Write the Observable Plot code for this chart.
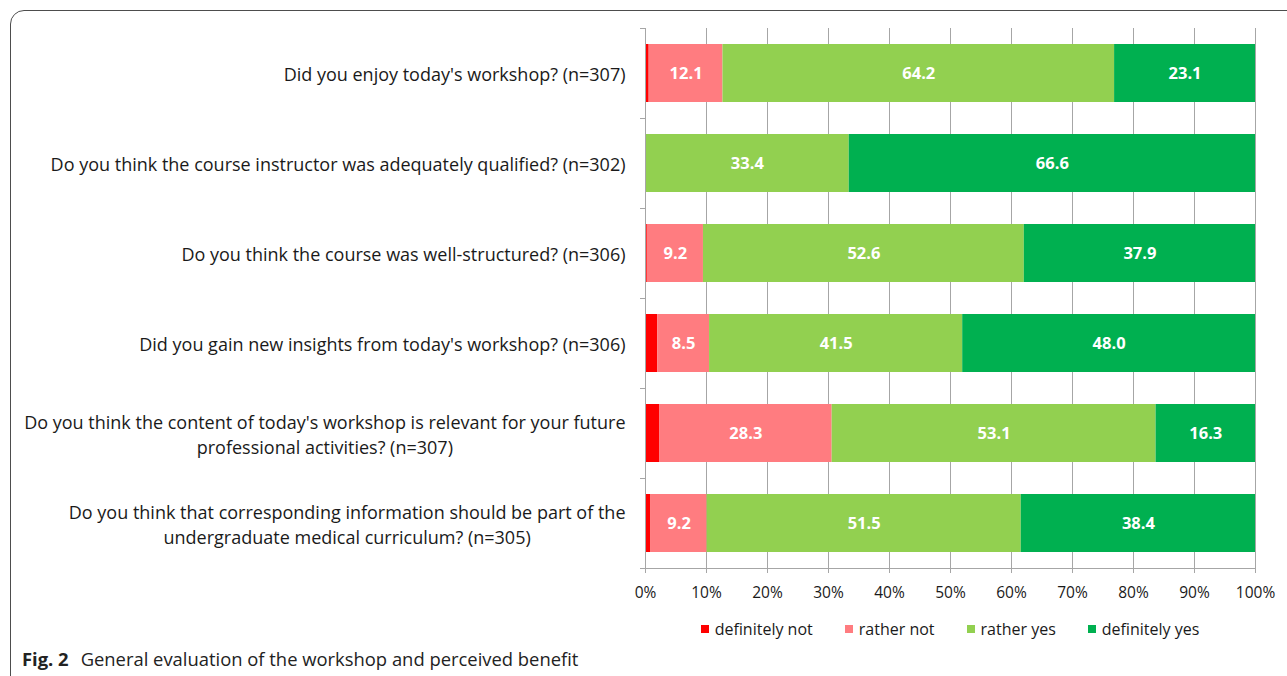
<!DOCTYPE html>
<html><head><meta charset="utf-8">
<script src="https://cdn.jsdelivr.net/npm/d3@7"></script>
<script src="https://cdn.jsdelivr.net/npm/@observablehq/plot@0.6"></script>
<style>
body{margin:0;background:#fff;}
#wrap{position:relative;width:1287px;height:676px;overflow:hidden;font-family:"Open Sans",sans-serif;color:#1a1a1a;}
#box{position:absolute;left:10px;top:10px;width:1400px;height:800px;border:1.5px solid #4d4d4d;border-radius:14px;box-sizing:border-box;}
#chart{position:absolute;left:0;top:0;}
#legend{position:absolute;left:645px;width:610px;top:618px;height:22px;display:flex;justify-content:center;align-items:center;font-size:16px;}
#legend .item{display:flex;align-items:center;margin:0 16px;}
#legend .sw{width:8px;height:8px;margin-right:6px;}
#caption{position:absolute;left:22px;top:646px;font-size:18.4px;color:#222;white-space:nowrap;}
#caption b{margin-right:12px;}
</style>
</head><body>
<div id="wrap">
  <div id="box"></div>
  <div id="chart"></div>
  <div id="legend"></div>
  <div id="caption"><b>Fig. 2</b>General evaluation of the workshop and perceived benefit</div>
</div>
<script>
const questions = [
  "Did you enjoy today's workshop? (n=307)",
  "Do you think the course instructor was adequately qualified? (n=302)",
  "Do you think the course was well-structured? (n=306)",
  "Did you gain new insights from today's workshop? (n=306)",
  "Do you think the content of today's workshop is relevant for your future\nprofessional activities? (n=307)",
  "Do you think that corresponding information should be part of the\nundergraduate medical curriculum? (n=305)"
];
const categories = ["definitely not", "rather not", "rather yes", "definitely yes"];
const colors = ["#ff0000", "#ff7c80", "#92d050", "#00b050"];
const definitelyNot = [0.6, 0, 0.3, 2.0, 2.3, 0.9];
const ratherNot = [12.1, 0, 9.2, 8.5, 28.3, 9.2];
const ratherYes = [64.2, 33.4, 52.6, 41.5, 53.1, 51.5];
const definitelyYes = [23.1, 66.6, 37.9, 48.0, 16.3, 38.4];
const xTicks = [0, 10, 20, 30, 40, 50, 60, 70, 80, 90, 100];

const series = [definitelyNot, ratherNot, ratherYes, definitelyYes];
const rows = [];
questions.forEach((q, i) => {
  categories.forEach((c, j) => rows.push({question: q, category: c, value: series[j][i]}));
});

const axisColor = "#a6a6a6";

function frameLines(index, scales, values, dims) {
  const g = d3.create("svg:g").attr("stroke", axisColor).attr("stroke-width", 1);
  const top = dims.marginTop, bottom = dims.height - dims.marginBottom;
  const left = dims.marginLeft, right = dims.width - dims.marginRight;
  const n = questions.length, step = (bottom - top) / n;
  for (let k = 0; k <= n; k++) {
    const y = top + k * step + 0.5;
    g.append("line").attr("x1", left - 5).attr("x2", left).attr("y1", y).attr("y2", y);
  }
  g.append("line").attr("x1", left).attr("x2", right).attr("y1", bottom + 0.5).attr("y2", bottom + 0.5);
  g.append("line").attr("x1", left + 0.5).attr("x2", left + 0.5).attr("y1", top).attr("y2", bottom);
  return g.node();
}

const chart = Plot.plot({
  width: 1287,
  height: 605,
  marginLeft: 645,
  marginRight: 32,
  marginTop: 28,
  marginBottom: 37,
  style: {fontFamily: "'Open Sans', sans-serif", fontSize: "15px", color: "#1a1a1a", background: "transparent"},
  x: {domain: [0, 100]},
  y: {domain: questions, paddingInner: 0.356, paddingOuter: 0.178},
  color: {domain: categories, range: colors},
  marks: [
    Plot.gridX(xTicks, {stroke: axisColor, strokeOpacity: 1}),
    Plot.barX(rows, Plot.stackX({x: "value", y: "question", fill: "category"})),
    Plot.text(rows, Plot.stackX({
      x: "value", y: "question",
      text: d => (d.category !== "definitely not" && d.value > 0) ? d.value.toFixed(1) : "",
      fill: "white", fontWeight: "bold", fontSize: 16.5
    })),
    frameLines,
    Plot.axisX(xTicks, {tickSize: 5, tickPadding: 13, stroke: axisColor, tickFormat: d => d + "%", fontSize: 15.5, label: null}),
    Plot.axisY({tickSize: 0, tickPadding: 20, fontSize: 18, lineHeight: 1.38, label: null})
  ]
});
document.getElementById("chart").appendChild(chart);

// center multi-line category labels like the original
chart.querySelectorAll("text").forEach(t => {
  const spans = t.querySelectorAll("tspan");
  if (spans.length > 1) {
    const widths = Array.from(spans, s => s.getComputedTextLength());
    const W = Math.max(...widths);
    t.setAttribute("text-anchor", "middle");
    spans.forEach(s => s.setAttribute("x", -W / 2));
  }
});

const legend = document.getElementById("legend");
categories.forEach((c, i) => {
  const item = document.createElement("div");
  item.className = "item";
  const sw = document.createElement("span");
  sw.className = "sw";
  sw.style.background = colors[i];
  const tx = document.createElement("span");
  tx.textContent = c;
  item.appendChild(sw); item.appendChild(tx);
  legend.appendChild(item);
});
</script>
</body></html>
